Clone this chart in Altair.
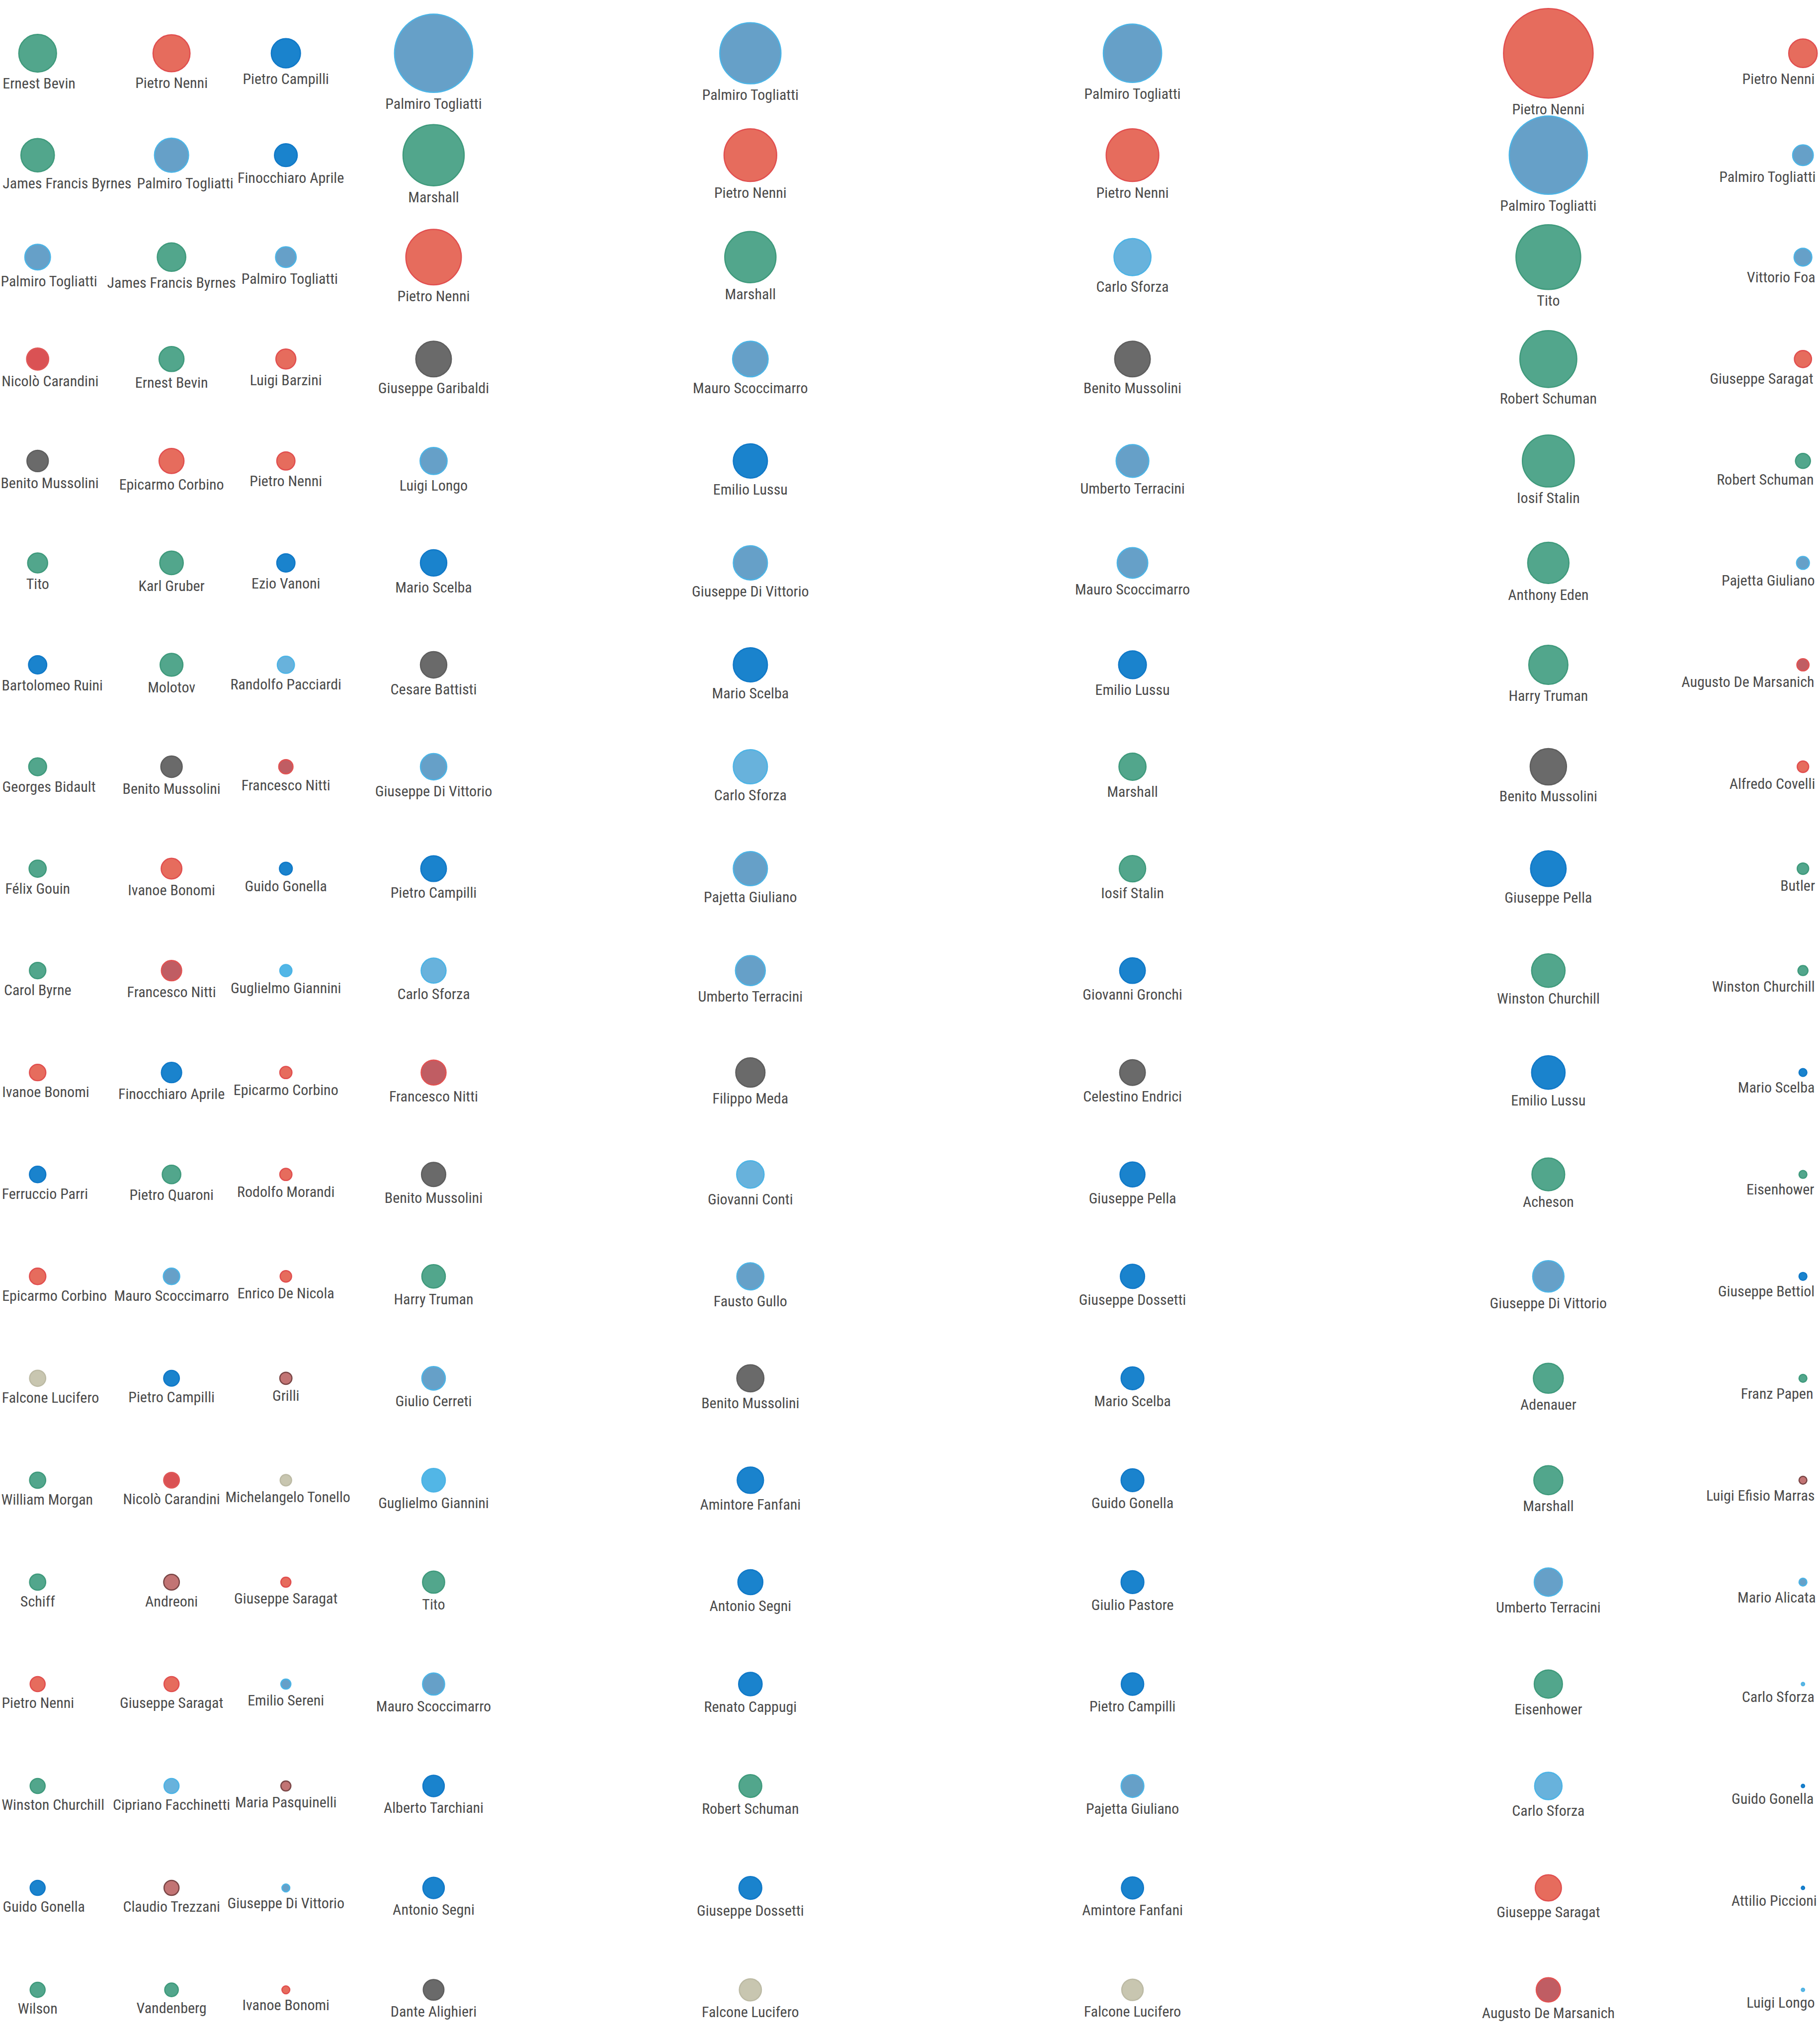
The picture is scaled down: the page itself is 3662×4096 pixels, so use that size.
import altair as alt
import pandas as pd

# ---------------- data ----------------
col1_names = ["Ernest Bevin", "James Francis Byrnes", "Palmiro Togliatti", "Nicolò Carandini", "Benito Mussolini",
              "Tito", "Bartolomeo Ruini", "Georges Bidault", "Félix Gouin", "Carol Byrne", "Ivanoe Bonomi",
              "Ferruccio Parri", "Epicarmo Corbino", "Falcone Lucifero", "William Morgan", "Schiff", "Pietro Nenni",
              "Winston Churchill", "Guido Gonella", "Wilson"]
col1_groups = ["est", "est", "pci", "pli", "hist", "est", "dc", "est", "est", "est", "psi",
               "dc", "psi", "mon", "est", "est", "psi", "est", "dc", "est"]
col1_values = [53, 47, 36, 31, 30, 28, 25.5, 25, 24, 23, 23, 23, 23, 22.6, 22.6, 22.6, 21, 21, 21, 21]

col2_names = ["Pietro Nenni", "Palmiro Togliatti", "James Francis Byrnes", "Ernest Bevin", "Epicarmo Corbino",
              "Karl Gruber", "Molotov", "Benito Mussolini", "Ivanoe Bonomi", "Francesco Nitti", "Finocchiaro Aprile",
              "Pietro Quaroni", "Mauro Scoccimarro", "Pietro Campilli", "Nicolò Carandini", "Andreoni",
              "Giuseppe Saragat", "Cipriano Facchinetti", "Claudio Trezzani", "Vandenberg"]
col2_groups = ["psi", "pci", "est", "est", "psi", "est", "est", "hist", "psi", "pdl", "dc",
               "est", "pci", "dc", "pli", "oth", "psi", "pri", "oth", "est"]
col2_values = [52, 48, 40, 35, 35, 33, 32, 30, 29, 28.5, 28.5, 26, 23, 22, 22, 22, 21, 21, 21, 19]

col3_names = ["Pietro Campilli", "Finocchiaro Aprile", "Palmiro Togliatti", "Luigi Barzini", "Pietro Nenni",
              "Ezio Vanoni", "Randolfo Pacciardi", "Francesco Nitti", "Guido Gonella", "Guglielmo Giannini",
              "Epicarmo Corbino", "Rodolfo Morandi", "Enrico De Nicola", "Grilli", "Michelangelo Tonello",
              "Giuseppe Saragat", "Emilio Sereni", "Maria Pasquinelli", "Giuseppe Di Vittorio", "Ivanoe Bonomi"]
col3_groups = ["dc", "dc", "pci", "psi", "psi", "dc", "pri", "pdl", "dc", "uq",
               "psi", "psi", "psi", "oth", "mon", "psi", "pci", "oth", "pci", "psi"]
col3_values = [41, 32, 29, 28, 25.5, 25.5, 24, 20, 18, 17, 17, 17, 16, 17, 16, 14, 14, 14, 11, 11]

col4_names = ["Palmiro Togliatti", "Marshall", "Pietro Nenni", "Giuseppe Garibaldi", "Luigi Longo", "Mario Scelba",
              "Cesare Battisti", "Giuseppe Di Vittorio", "Pietro Campilli", "Carlo Sforza", "Francesco Nitti",
              "Benito Mussolini", "Harry Truman", "Giulio Cerreti", "Guglielmo Giannini", "Tito",
              "Mauro Scoccimarro", "Alberto Tarchiani", "Antonio Segni", "Dante Alighieri"]
col4_groups = ["pci", "est", "psi", "hist", "pci", "dc", "hist", "pci", "dc", "pri", "pdl",
               "hist", "est", "pci", "uq", "est", "pci", "dc", "dc", "hist"]
col4_values = [110, 86, 78, 50, 38, 37, 37, 37, 36, 35, 35, 34, 33, 33, 33, 31, 31, 30, 30, 29]

col5_names = ["Palmiro Togliatti", "Pietro Nenni", "Marshall", "Mauro Scoccimarro", "Emilio Lussu",
              "Giuseppe Di Vittorio", "Mario Scelba", "Carlo Sforza", "Pajetta Giuliano", "Umberto Terracini",
              "Filippo Meda", "Giovanni Conti", "Fausto Gullo", "Benito Mussolini", "Amintore Fanfani",
              "Antonio Segni", "Renato Cappugi", "Robert Schuman", "Giuseppe Dossetti", "Falcone Lucifero"]
col5_groups = ["pci", "psi", "est", "pci", "dc", "pci", "dc", "pri", "pci", "pci",
               "hist", "pri", "pci", "hist", "dc", "dc", "dc", "est", "dc", "mon"]
col5_values = [86, 74, 72, 50, 48, 48, 48, 48, 48, 42, 41, 38.5, 38, 38, 37, 35, 33, 32, 32, 31]

col6_names = ["Palmiro Togliatti", "Pietro Nenni", "Carlo Sforza", "Benito Mussolini", "Umberto Terracini",
              "Mauro Scoccimarro", "Emilio Lussu", "Marshall", "Iosif Stalin", "Giovanni Gronchi",
              "Celestino Endrici", "Giuseppe Pella", "Giuseppe Dossetti", "Mario Scelba", "Guido Gonella",
              "Giulio Pastore", "Pietro Campilli", "Pajetta Giuliano", "Amintore Fanfani", "Falcone Lucifero"]
col6_groups = ["pci", "psi", "pri", "hist", "pci", "pci", "dc", "est", "est", "dc",
               "hist", "dc", "dc", "dc", "dc", "dc", "dc", "pci", "dc", "mon"]
col6_values = [82, 74, 52, 50, 46, 43, 39, 38, 37, 36, 36, 35, 34, 32, 32, 32, 31.5, 32, 31, 30]

col7_names = ["Pietro Nenni", "Palmiro Togliatti", "Tito", "Robert Schuman", "Iosif Stalin", "Anthony Eden",
              "Harry Truman", "Benito Mussolini", "Giuseppe Pella", "Winston Churchill", "Emilio Lussu",
              "Acheson", "Giuseppe Di Vittorio", "Adenauer", "Marshall", "Umberto Terracini", "Eisenhower",
              "Carlo Sforza", "Giuseppe Saragat", "Augusto De Marsanich"]
col7_groups = ["psi", "pci", "est", "est", "est", "est", "est", "hist", "dc", "est", "dc",
               "est", "pci", "est", "est", "pci", "est", "pri", "psi", "pdl"]
col7_values = [126, 110, 91, 80, 73, 58, 55, 51, 50, 47, 47, 46, 44, 42, 40.7, 39.6, 39.6, 38.5, 36.7, 34]

col8_names = ["Pietro Nenni", "Palmiro Togliatti", "Vittorio Foa", "Giuseppe Saragat", "Robert Schuman",
              "Pajetta Giuliano", "Augusto De Marsanich", "Alfredo Covelli", "Butler", "Winston Churchill",
              "Mario Scelba", "Eisenhower", "Giuseppe Bettiol", "Franz Papen", "Luigi Efisio Marras",
              "Mario Alicata", "Carlo Sforza", "Guido Gonella", "Attilio Piccioni", "Luigi Longo"]
col8_groups = ["psi", "pci", "pci", "psi", "est", "pci", "pdl", "psi", "est", "est",
               "dc", "est", "dc", "est", "oth", "pci", "pri", "dc", "dc", "pri"]
col8_values = [40, 29, 25, 24, 21, 18, 17, 16, 16, 14, 11, 11, 11, 11, 11, 11, 4.5, 4.5, 4.5, 4.5]

group_domain = ["est", "psi", "pli", "dc", "pci", "pri", "uq", "hist", "mon", "pdl", "oth"]
group_fill = ["#52a68c", "#e66c5d", "#da5254", "#1a83cd", "#66a0c8", "#68b2dc", "#52b6e6",
              "#6a6a6a", "#c8c6b0", "#c05d63", "#c27474"]
group_stroke = ["#3f9a7c", "#e14f4f", "#e05858", "#1079c8", "#4cb4e6", "#4cb4e6", "#4cb4e6",
                "#5e5e5e", "#bcbaa4", "#e25252", "#7a4646"]

# ---------------- layout ----------------
FULL_W, FULL_H = 5125, 5733
W, H = 3662, 4096
K = W / FULL_W
COLUMN_X = [106, 483, 805, 1221, 2113, 3189, 4360, 5077]
ROW_Y0, ROW_STEP = 150, 287
MAX_V = 126
MAX_SIZE = (2 * MAX_V * K) ** 2
FONT_SIZE = 30

# approximate glyph advance widths (per 1000 em) used only to keep labels inside the page
ADV = {" ": 278, "A": 667, "B": 667, "C": 722, "D": 722, "E": 667, "F": 611, "G": 778, "H": 722, "I": 278,
       "J": 500, "K": 667, "L": 556, "M": 833, "N": 722, "O": 778, "P": 667, "Q": 778, "R": 722, "S": 667,
       "T": 611, "U": 722, "V": 667, "W": 944, "X": 667, "Y": 667, "Z": 611, "a": 556, "b": 556, "c": 500,
       "d": 556, "e": 556, "f": 278, "g": 556, "h": 556, "i": 222, "j": 222, "k": 500, "l": 222, "m": 833,
       "n": 556, "o": 556, "p": 556, "q": 556, "r": 333, "s": 500, "t": 278, "u": 556, "v": 500, "w": 722,
       "x": 500, "y": 500, "z": 500, "é": 556, "ò": 556}


def text_halfwidth(s):
    em = sum(ADV.get(ch, 556) for ch in s) / 1000.0
    return em * FONT_SIZE * 0.89 / K / 2.0


columns = [
    (col1_names, col1_groups, col1_values), (col2_names, col2_groups, col2_values),
    (col3_names, col3_groups, col3_values), (col4_names, col4_groups, col4_values),
    (col5_names, col5_groups, col5_values), (col6_names, col6_groups, col6_values),
    (col7_names, col7_groups, col7_values), (col8_names, col8_groups, col8_values),
]

records = []
for c, (names, groups, vals) in enumerate(columns):
    for i, (n, g, v) in enumerate(zip(names, groups, vals)):
        records.append(dict(col=c, row=i, name=n, group=g, value=v,
                            cx=COLUMN_X[c], cy=ROW_Y0 + ROW_STEP * i))
df = pd.DataFrame(records)

# label placement: centred under the circle, kept inside the page, nudged right to avoid neighbours
df["halfw"] = df["name"].map(text_halfwidth)
lx = []
for r in range(20):
    prev_right = -1e9
    sub = df[df["row"] == r].sort_values("col")
    for idx, d in sub.iterrows():
        x = min(max(d["cx"], d["halfw"] + 4), FULL_W - 14 - d["halfw"])
        if x - d["halfw"] < prev_right + 14:
            x = prev_right + 14 + d["halfw"]
        prev_right = x + d["halfw"]
        lx.append((idx, x))
for idx, x in lx:
    df.loc[idx, "lx"] = x
df["ly"] = df["cy"] + df["value"] + 46

xs = alt.Scale(domain=[0, FULL_W], range=[0, W], nice=False, zero=False)
ys = alt.Scale(domain=[0, FULL_H], range=[0, H], nice=False, zero=False)

base = alt.Chart(df)

circles = base.mark_circle(opacity=1, strokeWidth=2.5).encode(
    x=alt.X("cx:Q", scale=xs, axis=None),
    y=alt.Y("cy:Q", scale=ys, axis=None),
    size=alt.Size("value:Q", scale=alt.Scale(type="pow", exponent=2, domain=[0, MAX_V],
                                              range=[0, MAX_SIZE]), legend=None),
    fill=alt.Fill("group:N", scale=alt.Scale(domain=group_domain, range=group_fill), legend=None),
    stroke=alt.Stroke("group:N", scale=alt.Scale(domain=group_domain, range=group_stroke), legend=None),
)

labels = base.mark_text(
    font="Liberation Sans Narrow, Roboto Condensed, DejaVu Sans Condensed, sans-serif",
    fontSize=FONT_SIZE, color="#4a4a4a", align="center", baseline="alphabetic",
).encode(
    x=alt.X("lx:Q", scale=xs, axis=None),
    y=alt.Y("ly:Q", scale=ys, axis=None),
    text="name:N",
)

chart = alt.layer(circles, labels).properties(
    width=W, height=H,
    autosize=alt.AutoSizeParams(type="none"),
    padding=0,
    background="white",
).configure_view(stroke=None)

chart.save("out.html", embed_options={"renderer": "svg", "actions": False})
